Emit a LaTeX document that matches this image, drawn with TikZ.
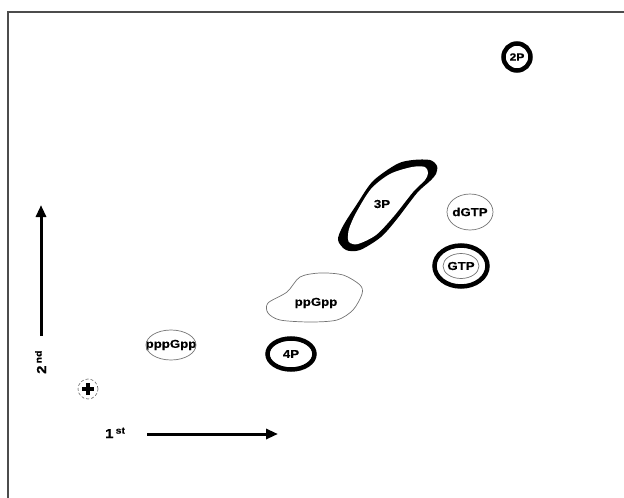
\documentclass[tikz,border=0pt]{standalone}
\usepackage{fontspec}
\usepackage{tikz}
\usetikzlibrary{arrows.meta, positioning}
\newfontfamily\spotfont[FakeStretch=1.15, FakeBold=0.6]{Liberation Sans}
\tikzset{
spotlabel/.style={
    inner sep=0pt,
    font=\spotfont\bfseries\fontsize{11.5}{12}\selectfont
},
thinspot/.style={
    draw=black!55,
    line width=0.7pt
},
thickspot/.style={
    draw=black,
    line width=4.5pt
},
axis/.style={
    ->, line width=3pt
}}

\begin{document}
\begin{tikzpicture}[
        x=1pt, y=-1pt,
        >={Triangle[length=12pt, width=10pt]}
    ]
    \useasboundingbox (0,0) rectangle (624,498);

    % frame
    \draw[black!70, line width=1.5pt] (624,12) -- (8,12) -- (8,498);

    % spots
    \node[spotlabel, font=\spotfont\bfseries\fontsize{10.5}{12}\selectfont] (P2) at (517,57) {2P};
    \draw[thickspot] (P2.center) circle [radius=13.5pt];

    \fill[black] plot[smooth cycle] coordinates {(338,240) (343,226) (357,204) (373,181) (397,164) (413,160) (430,160) (437,166) (436,174) (430,181) (417,193) (397,219) (381,237) (360,250) (346,250)};
    \fill[white] plot[smooth cycle] coordinates {(348,239) (349,229) (356,213) (371,189) (390,174) (412,167) (425,167) (428,173) (425,180) (413,192) (394,216) (376,235) (358,244) (350,243)};
    \node[spotlabel] (P3) at (382,204) {3P};

    \node[spotlabel] (dGTP) at (470,212) {dGTP};
    \draw[thinspot] (dGTP.center) ellipse [x radius=23pt, y radius=18pt];

    \node[spotlabel] (GTP) at (461,266) {GTP};
    \draw[thinspot] (GTP.center) ellipse [x radius=18pt, y radius=12.5pt];
    \draw[thickspot] (GTP.center) ellipse [x radius=26.5pt, y radius=20.5pt];

    \node[spotlabel] (ppGpp) at (316,303) {ppGpp};
    \draw[thinspot] plot[smooth cycle] coordinates {(268,303) (287,292) (300,277) (320,273) (343,275) (360,285) (362,294) (353,310) (337,320) (310,322) (280,320) (268,313)};

    \node[spotlabel] (pppGpp) at (171,345) {pppGpp};
    \draw[thinspot] (pppGpp.center) ellipse [x radius=25pt, y radius=15pt];

    \node[spotlabel] (P4) at (291,354) {4P};
    \draw[thickspot] (P4.center) ellipse [x radius=23.5pt, y radius=15.5pt];

    % origin
    \node[circle, draw=black!60, densely dashed, line width=0.6pt, minimum size=20pt, inner sep=0pt] (origin) at (88,389) {};
    \draw[line width=3.8pt] (82,389) -- (94,389) (88,383) -- (88,395);

    % axes
    \node[spotlabel, anchor=base west, font=\spotfont\bfseries\fontsize{13}{13}\selectfont] (first) at (105,438) {1\,\textsuperscript{st}};
    \coordinate (xbeg) at (147,434);
    \coordinate (xend) at (278,434);
    \draw[axis] (xbeg) -- (xend);

    \node[spotlabel, anchor=base west, rotate=90, font=\spotfont\bfseries\fontsize{13}{13}\selectfont] (second) at (46,374) {2\,\textsuperscript{nd}};
    \coordinate (ybeg) at (41,336);
    \coordinate (yend) at (41,205);
    \draw[axis] (ybeg) -- (yend);

    \end{tikzpicture}
\end{document}
